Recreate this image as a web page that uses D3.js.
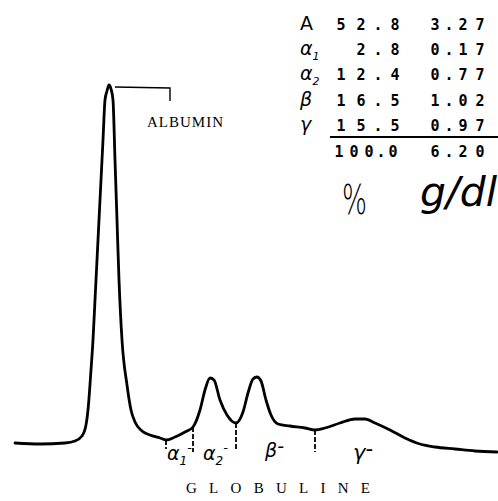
<!DOCTYPE html>
<html>
<head>
<meta charset="utf-8">
<script src="https://cdn.jsdelivr.net/npm/d3@7"></script>
<style>
  html, body { margin: 0; padding: 0; background: #fff; }
  svg { display: block; }
</style>
</head>
<body>
<div id="chart"></div>
<script>
// densitogram trace: position along the strip vs. optical density
const scanPos = [0, 25, 50, 60, 67, 71, 73, 76, 78, 80, 82, 84, 86, 88, 90, 92, 94, 96, 98, 100, 102, 104, 107, 112, 116, 120, 127, 135, 145, 151,
  160, 170, 178, 185, 190, 195, 199, 205, 212, 221, 228, 233, 238, 242, 246, 251, 256, 263, 275, 290, 300, 310, 325, 340, 350, 360, 375, 390, 405, 420, 440, 460, 482];
const density = [7, 6, 7, 9, 14, 25, 40, 80, 110, 150, 190, 230, 270, 310, 350, 359, 365, 361, 350, 290, 230, 170, 110, 65, 40, 28, 19, 15, 12, 10,
  13, 18, 23, 40, 60, 72, 70, 50, 35, 27, 38, 57, 71, 73, 69, 50, 35, 26, 24, 22, 20, 22, 27, 31, 31, 27, 20, 12, 6, 3, 1, -1, -2];

// fraction boundaries (position on the strip) and tick length below the trace
const cuts = [151, 178, 221, 300];
const cutLen = [9, 25, 27, 22];

// table values
const fractions = ["A", "α", "α", "β", "γ"];
const fractionSub = ["", "1", "2", "", ""];
const percent = [52.8, 2.8, 12.4, 16.5, 15.5];
const gPerDl = [3.27, 0.17, 0.77, 1.02, 0.97];

// labels under the trace
const curveLabels = ["α", "α", "β", "γ"];
const curveLabelSub = ["1", "2", "", ""];
const curveLabelPos = [152, 188, 250, 338];

const W = 498, H = 501;
const svg = d3.select("#chart").append("svg").attr("width", W).attr("height", H);

const x = d3.scaleLinear().domain([0, 482]).range([15, 497]);
const y = d3.scaleLinear().domain([0, 365]).range([450, 85]);

// trace
const line = d3.line()
  .x((d, i) => x(scanPos[i]))
  .y(d => y(d))
  .curve(d3.curveMonotoneX);

svg.append("path")
  .datum(density)
  .attr("d", line)
  .attr("fill", "none")
  .attr("stroke", "#000")
  .attr("stroke-width", 2.8)
  .attr("stroke-linejoin", "round")
  .attr("stroke-linecap", "round");

// dashed separators between fractions
const interp = p => {
  const i = d3.bisectLeft(scanPos, p);
  if (scanPos[i] === p) return density[i];
  const t = (p - scanPos[i - 1]) / (scanPos[i] - scanPos[i - 1]);
  return density[i - 1] + t * (density[i] - density[i - 1]);
};
svg.selectAll(".cut").data(cuts).enter().append("line")
  .attr("class", "cut")
  .attr("x1", d => x(d)).attr("x2", d => x(d))
  .attr("y1", d => y(interp(d)))
  .attr("y2", (d, i) => y(interp(d)) + cutLen[i])
  .attr("stroke", "#000")
  .attr("stroke-width", 1.8)
  .attr("stroke-dasharray", "5,2");

// albumin bracket
const peakPos = scanPos[density.indexOf(d3.max(density))];
const brY = y(d3.max(density)) + 2;
svg.append("path")
  .attr("d", `M${x(peakPos) + 6},${brY} L${x(155)},${brY + 1} L${x(155)},${brY + 14}`)
  .attr("fill", "none").attr("stroke", "#000").attr("stroke-width", 1.4);

svg.append("text")
  .attr("x", 147).attr("y", 127)
  .attr("textLength", 76).attr("lengthAdjust", "spacing")
  .style("font-family", "'Liberation Serif', serif")
  .style("font-size", "15px")
  .text("ALBUMIN");

svg.append("text")
  .attr("x", 186).attr("y", 493)
  .attr("textLength", 184).attr("lengthAdjust", "spacing")
  .style("font-family", "'Liberation Serif', serif")
  .style("font-size", "15px")
  .text("GLOBULINE");

// fraction labels under the trace
const hand = "'DejaVu Sans', sans-serif";
curveLabels.forEach((lab, i) => {
  const t = svg.append("text")
    .attr("x", x(curveLabelPos[i]))
    .attr("y", 460 - (i === 2 ? 3 : 0))
    .style("font-family", hand)
    .style("font-style", "italic")
    .style("font-size", i === 3 ? "21px" : "19px");
  t.append("tspan").text(lab);
  if (curveLabelSub[i]) {
    t.append("tspan").attr("dy", 5).style("font-size", "12px").text(curveLabelSub[i]);
    t.append("tspan").attr("dy", -13).style("font-size", "13px").text("-");
  } else {
    t.append("tspan").attr("dy", -4).text("-");
  }
});

// result table
const rowY = [30, 55, 80, 106, 131];
const numFont = "'DejaVu Sans Mono', monospace";

fractions.forEach((f, i) => {
  const t = svg.append("text")
    .attr("x", 300).attr("y", rowY[i])
    .style("font-family", hand)
    .style("font-size", i === 0 ? "19px" : "19px")
    .style("font-style", i === 0 ? "normal" : "italic");
  t.append("tspan").text(f);
  if (fractionSub[i]) t.append("tspan").attr("dy", 5).style("font-size", "11px").text(fractionSub[i]);
});

// typewriter-like number: characters placed one by one, right to left
const numText = (str, lastCenter, digitGap, dotGap, yy) => {
  const g = svg.append("g");
  let cx = lastCenter;
  const chars = str.split("");
  for (let j = chars.length - 1; j >= 0; j--) {
    g.append("text")
      .attr("x", cx).attr("y", yy)
      .attr("text-anchor", "middle")
      .style("font-family", numFont)
      .style("font-weight", "bold")
      .style("font-size", "15px")
      .text(chars[j]);
    const next = chars[j - 1];
    cx -= (chars[j] === "." || next === ".") ? dotGap : digitGap;
  }
};

percent.forEach((v, i) => numText(v.toFixed(1), 395, 20, 17, rowY[i]));
gPerDl.forEach((v, i) => numText(v.toFixed(2), 480, 17, 14, rowY[i]));

svg.append("line")
  .attr("x1", 330).attr("x2", 498)
  .attr("y1", 137).attr("y2", 137)
  .attr("stroke", "#000").attr("stroke-width", 1.8);

numText(d3.sum(percent).toFixed(1), 393, 15, 12, 157);
numText(d3.sum(gPerDl).toFixed(2), 480, 17, 14, 157);

// units
svg.append("text")
  .attr("x", 342).attr("y", 214)
  .attr("textLength", 25).attr("lengthAdjust", "spacingAndGlyphs")
  .style("font-family", hand).style("font-size", "40px").style("font-weight", "200")
  .text("%");
svg.append("text")
  .attr("x", 420).attr("y", 206)
  .attr("textLength", 77).attr("lengthAdjust", "spacingAndGlyphs")
  .style("font-family", hand).style("font-size", "40px").style("font-style", "italic").style("font-weight", "200")
  .text("g/dl");
</script>
</body>
</html>
